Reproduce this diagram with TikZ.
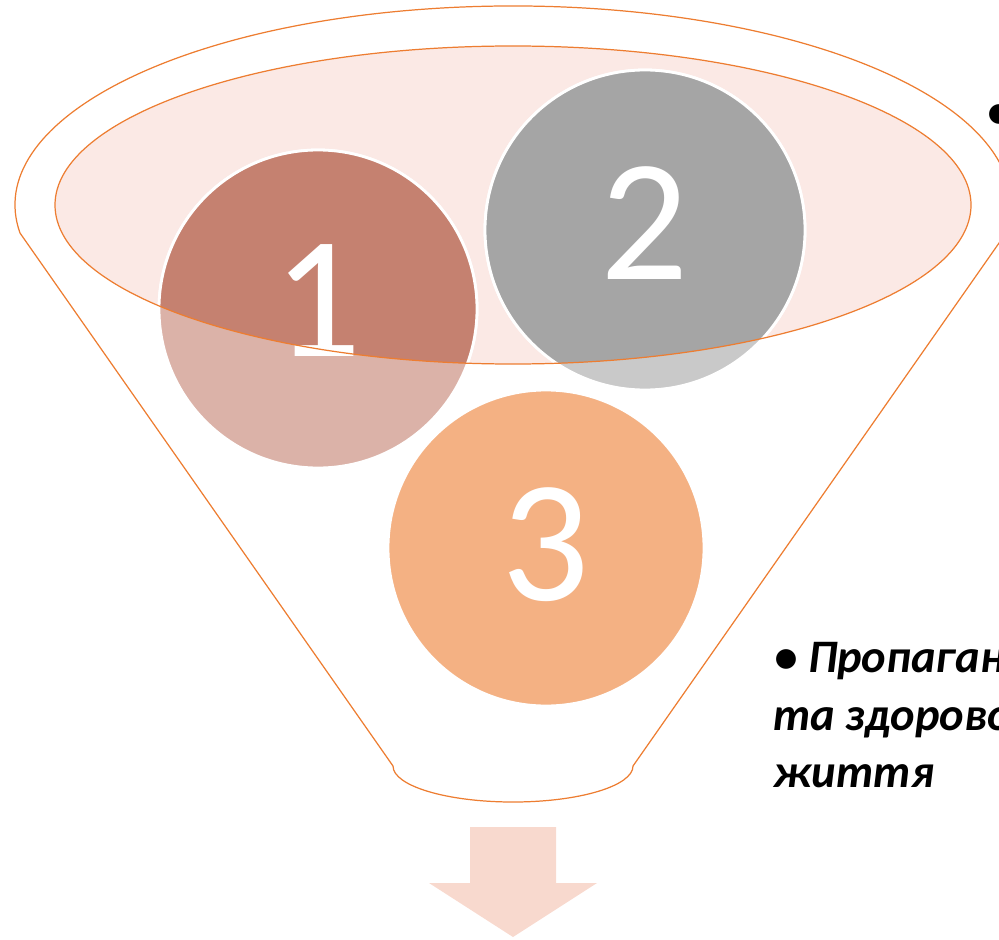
\documentclass[tikz,border=0pt]{standalone}
\usepackage{fontspec}
\setmainfont{Carlito}
\definecolor{funnelorange}{HTML}{ED7D31}
\definecolor{liquid}{HTML}{FBE9E5}
\definecolor{balloneup}{HTML}{C58170}
\definecolor{ballonedown}{HTML}{DBB2A8}
\definecolor{balltwoup}{HTML}{A5A5A5}
\definecolor{balltwodown}{HTML}{C9C9C9}
\definecolor{ballthree}{HTML}{F4B183}
\definecolor{outarrow}{HTML}{F8D9CE}
\begin{document}
\begin{tikzpicture}[x=0.02cm, y=-0.02cm,
  rimline/.style={draw=funnelorange, line width=0.7pt},
  ball/.style={draw=white, line width=1.6pt},
  digit/.style={text=white, inner sep=0pt, font=\fontsize{99}{99}\selectfont},
  note/.style={anchor=base west, inner sep=0pt,
    font=\fontsize{26.5}{34}\selectfont\bfseries\itshape}]
\useasboundingbox (0,0) rectangle (999,939);
\clip (0,0) rectangle (999,939);

\path (20,233) coordinate (lefttop) (633,766) coordinate (rightbottom);
\draw [rimline]
     (lefttop)
     arc[start angle=171.9, end angle=368.1, x radius=498, y radius=199]
  -- (rightbottom)
     arc[start angle=0, end angle=180, x radius=120, y radius=36]
  -- cycle;
\fill [liquid] (513,205) coordinate (top) ellipse[x radius=458, y radius=159];

%%%%%%%%%%%%%%%%%%%%%%%%%%%%%%%%%%%%%%%%

\path (318,309) coordinate (c1)
      (645,230) coordinate (c2)
      (546,548) coordinate (c3);
\filldraw [ball, fill=ballonedown] (c1) circle[radius=159];
\filldraw [ball, fill=balltwodown] (c2) circle[radius=160];
\filldraw [ball, fill=ballthree]   (c3) circle[radius=158];
\begin{scope}
  \clip (top) ellipse[x radius=458, y radius=159];
  \filldraw [ball, fill=balloneup] (c1) circle[radius=159];
  \filldraw [ball, fill=balltwoup] (c2) circle[radius=160];
\end{scope}
\node [digit] (n1) at (318,301) {1};
\node [digit] (n2) at (645,223) {2};
\node [digit] (n3) at (546,545) {3};
\draw [rimline] (top) ellipse[x radius=458, y radius=159];

%%%%%%%%%%%%%%%%%%%%%%%%%%%%%%%%%%%%%%%%

\fill [outarrow]
     (470,827)
  -- ++(86,0)
  -- ++(0,56)
  -- ++(41,0)
  -- (513,937)
  -- (429,883)
  -- ++(41,0)
  -- cycle;

\node [note] (dot) at (987,128) {•};
\node [note] (line1) at (774,672) {• Пропаганда};
\node [note] (line2) at (773,730) {та здорового};
\node [note] (line3) at (773,787) {життя};
\end{tikzpicture}
\end{document}
